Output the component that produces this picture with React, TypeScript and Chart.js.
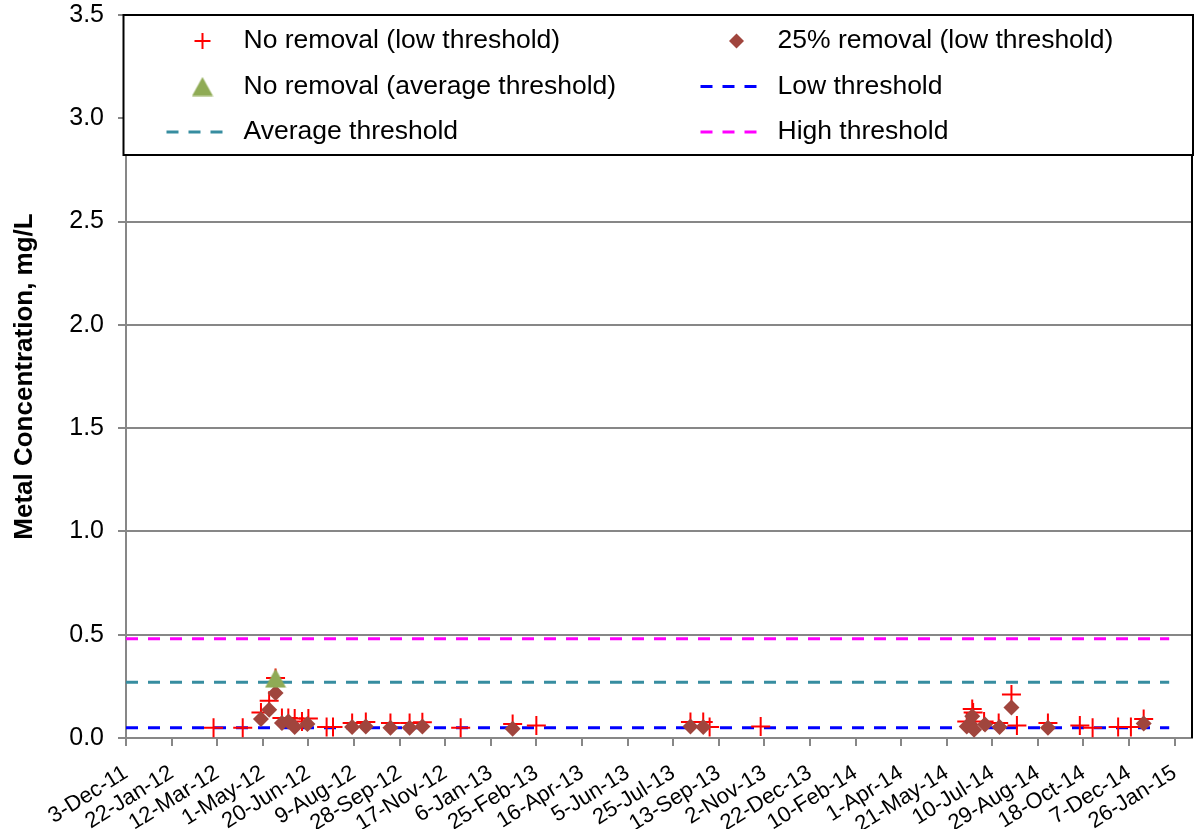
import React, { useEffect, useRef } from 'react';
import { Chart, registerables } from 'chart.js';

Chart.register(...registerables);

// ---------- data ----------
const START_DATE = '2011-12-03';
const X_AXIS_MAX_DAYS = 1169;
const TICK_STEP_DAYS = 50;
const LAST_TICK_DAYS = 1150;

const noRemovalLowDates = [
  '2012-03-08', '2012-04-09', '2012-04-29', '2012-05-08', '2012-05-15', '2012-05-22',
  '2012-05-29', '2012-06-05', '2012-06-13', '2012-06-20', '2012-07-10', '2012-07-17',
  '2012-08-07', '2012-08-22', '2012-09-18', '2012-10-09', '2012-10-23', '2012-12-04',
  '2013-01-30', '2013-02-25', '2013-08-13', '2013-08-27', '2013-09-03', '2013-10-29',
  '2014-06-12', '2014-06-18', '2014-06-19', '2014-07-01', '2014-07-17', '2014-07-31',
  '2014-08-06', '2014-09-09', '2014-10-14', '2014-10-28', '2014-11-25', '2014-12-09',
  '2014-12-23',
];
const noRemovalLowValues = [
  0.05, 0.05, 0.124, 0.18, 0.29, 0.097,
  0.097, 0.094, 0.08, 0.094, 0.053, 0.053,
  0.073, 0.078, 0.073, 0.073, 0.076, 0.05,
  0.068, 0.061, 0.078, 0.078, 0.053, 0.056,
  0.08, 0.14, 0.124, 0.08, 0.073, 0.21,
  0.061, 0.073, 0.06, 0.05, 0.053, 0.053,
  0.092,
];

const removal25LowDates = [
  '2012-04-29', '2012-05-08', '2012-05-15', '2012-05-22', '2012-05-29', '2012-06-05',
  '2012-06-19', '2012-08-07', '2012-08-22', '2012-09-18', '2012-10-09', '2012-10-23',
  '2013-01-30', '2013-08-13', '2013-08-27', '2014-06-12', '2014-06-16', '2014-06-18',
  '2014-06-20', '2014-07-02', '2014-07-18', '2014-07-31', '2014-09-09', '2014-12-23',
];
const removal25LowValues = [
  0.092, 0.137, 0.218, 0.073, 0.08, 0.053,
  0.068, 0.053, 0.056, 0.05, 0.05, 0.056,
  0.045, 0.056, 0.053, 0.056, 0.065, 0.105,
  0.04, 0.065, 0.053, 0.148, 0.05, 0.07,
];

const noRemovalAvgDates = ['2012-05-15'];
const noRemovalAvgValues = [0.29];

const thresholdSpanDates = ['2011-12-03', '2015-01-20'];
const lowThresholdValue = 0.05;
const averageThresholdValue = 0.27;
const highThresholdValue = 0.48;

const seriesLabels = [
  'No removal (low threshold)',
  '25% removal (low threshold)',
  'No removal (average threshold)',
  'Low threshold',
  'Average threshold',
  'High threshold',
];

const MONTHS = ['Jan', 'Feb', 'Mar', 'Apr', 'May', 'Jun', 'Jul', 'Aug', 'Sep', 'Oct', 'Nov', 'Dec'];
const DAY_MS = 86400000;
const startMs = Date.parse(START_DATE + 'T00:00:00Z');
const daysFrom = (d: string) => Math.round((Date.parse(d + 'T00:00:00Z') - startMs) / DAY_MS);
const fmtDay = (v: number) => {
  const d = new Date(startMs + v * DAY_MS);
  return `${d.getUTCDate()}-${MONTHS[d.getUTCMonth()]}-${String(d.getUTCFullYear() % 100).padStart(2, '0')}`;
};
const toPoints = (dates: string[], values: number[]) => dates.map((d, i) => ({ x: daysFrom(d), y: values[i] }));

// ---------- styles ----------
const FONT = "'Liberation Sans', Arial, Helvetica, sans-serif";
const RED = '#FF0000';
const BROWN = '#A0453D';
const GREEN = '#8FAB55';
const BLUE = '#0000FF';
const TEAL = '#378DA0';
const MAGENTA = '#FF00FF';
const GRID = '#878787';
const DASH = [12, 10];

function makeTriangle(color: string) {
  const c = document.createElement('canvas');
  c.width = 22;
  c.height = 20;
  const g = c.getContext('2d')!;
  g.fillStyle = color;
  g.beginPath();
  g.moveTo(11, 0.5);
  g.lineTo(21.5, 19.5);
  g.lineTo(0.5, 19.5);
  g.closePath();
  g.fill();
  return c;
}

const zeroPadding = () => ({ left: 0, top: 0, right: 0, bottom: 0 });

const frameLegendPlugin = {
  id: 'frameLegend',
  afterDraw(chart: any) {
    const { ctx, chartArea } = chart;
    ctx.save();
    ctx.strokeStyle = '#000';
    ctx.lineWidth = 2;
    ctx.beginPath();
    ctx.moveTo(chartArea.left, chartArea.top);
    ctx.lineTo(chartArea.right, chartArea.top);
    ctx.lineTo(chartArea.right, chartArea.bottom);
    ctx.stroke();

    // legend box
    const bx = chartArea.left - 2.5;
    const by = chartArea.top;
    const bw = chart.width - 1 - bx;
    const bh = 140;
    ctx.fillStyle = '#fff';
    ctx.fillRect(bx, by, bw, bh);
    ctx.strokeStyle = '#000';
    ctx.lineWidth = 2;
    ctx.strokeRect(bx, by, bw, bh);

    const rowY = [by + 26, by + 71.5, by + 117];
    const colLine = [bx + 43, bx + 577];
    const colMarker = [bx + 79, bx + 613];
    const colText = [bx + 120, bx + 654];
    ctx.font = `26.5px ${FONT}`;
    ctx.textBaseline = 'middle';
    ctx.textAlign = 'left';
    chart.data.datasets.forEach((ds: any, i: number) => {
      const col = i % 2;
      const row = Math.floor(i / 2);
      const y = rowY[row];
      const kind = ds.legendKind;
      if (kind === 'line') {
        ctx.save();
        ctx.strokeStyle = ds.borderColor;
        ctx.lineWidth = 3;
        ctx.setLineDash(DASH);
        ctx.beginPath();
        ctx.moveTo(colLine[col], y);
        ctx.lineTo(colLine[col] + 56, y);
        ctx.stroke();
        ctx.restore();
      } else if (kind === 'plus') {
        const x = colMarker[col];
        ctx.strokeStyle = ds.borderColor;
        ctx.lineWidth = 2;
        ctx.beginPath();
        ctx.moveTo(x - 8, y);
        ctx.lineTo(x + 8, y);
        ctx.moveTo(x, y - 8);
        ctx.lineTo(x, y + 8);
        ctx.stroke();
      } else if (kind === 'diamond') {
        const x = colMarker[col];
        const r = 7.5;
        ctx.fillStyle = ds.backgroundColor;
        ctx.beginPath();
        ctx.moveTo(x, y - r);
        ctx.lineTo(x + r, y);
        ctx.lineTo(x, y + r);
        ctx.lineTo(x - r, y);
        ctx.closePath();
        ctx.fill();
      } else if (kind === 'triangle') {
        const x = colMarker[col];
        const img = ds.pointStyle;
        ctx.drawImage(img, x - img.width / 2, y - img.height / 2);
      }
      ctx.fillStyle = '#000';
      ctx.fillText(ds.label, colText[col], y);
    });
    ctx.restore();
  },
};

export default function App() {
  const canvasRef = useRef<HTMLCanvasElement | null>(null);

  useEffect(() => {
    const canvas = canvasRef.current;
    if (!canvas) return;
    const triangle = makeTriangle(GREEN);
    const spanPts = (v: number) => thresholdSpanDates.map((d) => ({ x: daysFrom(d), y: v }));
    const xTicks: number[] = [];
    for (let v = 0; v <= LAST_TICK_DAYS; v += TICK_STEP_DAYS) xTicks.push(v);

    const lineDs = (label: string, color: string, v: number, order: number) => ({
      type: 'line' as const,
      label,
      legendKind: 'line',
      data: spanPts(v),
      borderColor: color,
      backgroundColor: color,
      borderWidth: 3,
      borderDash: DASH,
      pointRadius: 0,
      showLine: true,
      fill: false,
      order,
    });

    const chart = new Chart(canvas, {
      type: 'scatter',
      data: {
        datasets: [
          {
            label: seriesLabels[0],
            legendKind: 'plus',
            data: toPoints(noRemovalLowDates, noRemovalLowValues),
            pointStyle: 'cross',
            pointRadius: 9.5,
            borderWidth: 2,
            borderColor: RED,
            backgroundColor: RED,
            order: 2,
          } as any,
          {
            label: seriesLabels[1],
            legendKind: 'diamond',
            data: toPoints(removal25LowDates, removal25LowValues),
            pointStyle: 'rectRot',
            pointRadius: 8,
            borderWidth: 0,
            borderColor: BROWN,
            backgroundColor: BROWN,
            order: 1,
          } as any,
          {
            label: seriesLabels[2],
            legendKind: 'triangle',
            data: toPoints(noRemovalAvgDates, noRemovalAvgValues),
            pointStyle: triangle,
            pointRadius: 11,
            borderColor: GREEN,
            backgroundColor: GREEN,
            order: 0,
          } as any,
          lineDs(seriesLabels[3], BLUE, lowThresholdValue, 3) as any,
          lineDs(seriesLabels[4], TEAL, averageThresholdValue, 4) as any,
          lineDs(seriesLabels[5], MAGENTA, highThresholdValue, 5) as any,
        ],
      },
      options: {
        animation: false,
        responsive: false,
        maintainAspectRatio: false,
        events: [],
        layout: { autoPadding: false, padding: { top: 15, right: 2, left: 0, bottom: 0 } },
        plugins: {
          legend: { display: false },
          tooltip: { enabled: false },
        },
        scales: {
          x: {
            type: 'linear',
            min: 0,
            max: X_AXIS_MAX_DAYS,
            afterBuildTicks: (s: any) => {
              s.ticks = xTicks.map((v) => ({ value: v }));
            },
            afterFit: (s: any) => {
              s.height = 829 - 738;
              s.paddingRight = 0;
              s.paddingLeft = 0;
              s.getPadding = zeroPadding;
            },
            ticks: {
              autoSkip: false,
              maxRotation: 32,
              minRotation: 32,
              padding: 14,
              color: '#000',
              font: { family: FONT, size: 22 },
              callback: (v: any) => fmtDay(Number(v)),
            },
            grid: {
              display: true,
              drawOnChartArea: false,
              drawTicks: true,
              tickLength: 8,
              color: GRID,
              lineWidth: 2,
            },
            border: { display: true, color: GRID, width: 2 },
          },
          y: {
            type: 'linear',
            min: 0,
            max: 3.5,
            afterFit: (s: any) => {
              s.width = 126;
              s.paddingTop = 0;
              s.paddingBottom = 0;
              s.getPadding = zeroPadding;
            },
            ticks: {
              stepSize: 0.5,
              padding: 14,
              color: '#000',
              font: { family: FONT, size: 25 },
              callback: (v: any) => Number(v).toFixed(1),
            },
            grid: {
              color: GRID,
              lineWidth: 2,
              tickLength: 8,
              drawTicks: true,
            },
            border: { display: true, color: GRID, width: 2 },
            title: {
              display: true,
              text: 'Metal Concentration, mg/L',
              color: '#000',
              font: { family: FONT, size: 26, weight: 'bold' },
              padding: { top: 9, bottom: 0 },
            },
          },
        },
      },
      plugins: [frameLegendPlugin],
    } as any);
    return () => chart.destroy();
  }, []);

  return (
    <div style={{ position: 'absolute', left: 0, top: 0, width: 1194, height: 829, background: '#fff' }}>
      <canvas ref={canvasRef} width={1194} height={829} style={{ width: 1194, height: 829 }} />
    </div>
  );
}
